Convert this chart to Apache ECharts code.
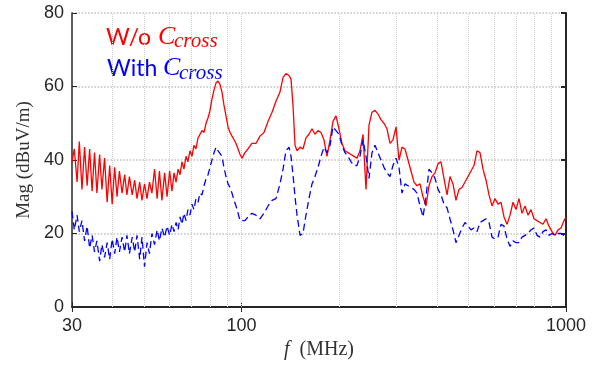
<!DOCTYPE html>
<html><head><meta charset="utf-8">
<script src="https://cdn.jsdelivr.net/npm/echarts@6/dist/echarts.min.js"></script>
<style>html,body{margin:0;padding:0;background:#fff}#c{width:595px;height:366px}</style>
</head><body><div id="c"></div>
<script>
// Frequency samples (MHz)
const freq = [
  30, 30.5, 31.1, 31.6, 32.2, 32.8, 33.4, 34, 34.6, 35.2, 35.8, 36.5, 37.1, 37.8, 38.5, 39.2, 39.9, 40.6, 41.3, 42,
  42.8, 43.6, 44.3, 45.1, 46, 46.8, 47.6, 48.5, 49.3, 50.2, 51.1, 52, 52.9, 53.9, 54.9, 55.8, 56.8, 57.9, 58.9, 60, 61,
  61.9, 62.8, 63.7, 64.6, 65.5, 66.4, 67.4, 68.3, 69.3, 70.3, 71.3, 72.3, 73.4, 74.4, 75.5, 76.6, 77.7, 78.8, 79.9, 81,
  82.2, 83.4, 84.6, 85.8, 87, 88.2, 89.5, 90.8, 92.1, 93.4, 94.8, 96.1, 97.5, 98.9,
  100.3, 102.4, 104.6, 107.6, 110.7, 113.9, 117.2, 120.6, 124.1, 127.6, 131.3, 134.2, 137, 140, 142, 144, 146.1, 148.2,
  151.4, 154.6, 157.9, 161.3, 164.8, 168.3, 172, 175.7, 179.4, 183.3, 187.3, 191.3, 195.4, 199.6, 203.9, 208.3, 212.8,
  217.4, 222.1, 226.8, 231.7, 236.7, 241.8, 247, 252.3, 257.7, 263.3, 268.9, 274.7, 280.6, 286.7, 292.8, 299.2,
  305.6, 312.2, 318.9, 325.8, 332.8, 339.9, 347.2, 354.7, 362.4, 370.2, 378.1, 386.3, 394.6, 403.1, 411.8, 420.6,
  429.7, 438.9, 448.4, 458, 467.9, 478, 488.3, 498.8, 509.5, 520.5, 531.7, 543.1, 554.8, 566.8, 579, 591.4, 604.2,
  617.2, 630.5, 644, 657.9, 672.1, 686.5, 701.3, 716.4, 731.8, 747.5, 763.6, 780, 796.8, 814, 831.5, 849.4, 867.7,
  886.3, 905.4, 924.9, 944.8, 965.1, 985.9, 1000
];
// W/o Ccross (dBuV/m)
const magWithout = [
  39.5, 43, 34, 45, 32, 43.5, 33, 43, 31.5, 42, 31, 41.5, 32, 40.5, 28.5, 38.5, 28, 38, 30, 37,
  31, 36, 30.5, 35.5, 30.5, 34.5, 29.5, 34, 29, 33.5, 29.5, 34, 31, 37.5, 29.5, 37, 29, 36.5, 30, 37, 31.5,
  36.5, 34, 37.5, 36, 39.5, 37.5, 41, 39.5, 42.5, 41, 44, 43, 46, 45.5, 48, 47.5, 50, 51.5, 53.5, 56.5,
  59, 61, 61.5, 60.5, 58.5, 55, 52, 49, 47.5, 46.5, 45.5, 44.5, 43, 41.5,
  40.5, 42, 43, 44.5, 44.5, 46.5, 47.5, 50.5, 53, 56, 58.5, 62.5, 63.5, 63, 62, 55, 44, 42.5,
  43.5, 43, 46, 47, 48.5, 47, 48, 47.5, 45.5, 41, 45.5, 50.5, 52, 48.5, 44.5, 42.5, 42,
  41.5, 41, 40.5, 42.5, 47, 32, 49.5, 53, 53.5, 52.5, 51, 50, 48.5, 44.5, 45.5, 49,
  40, 43.5, 43, 40, 37, 34, 33, 33.5, 30, 27.5, 33, 35.5, 36.5, 39, 39.5, 35,
  30.5, 35.5, 33.5, 29, 32, 32.5, 34, 35.5, 37, 38.5, 42.5, 42, 37.5, 34.5, 30.5, 27.5, 29.5,
  28, 28.5, 24.5, 22.5, 25, 28.5, 26.5, 29.5, 25.5, 27.5, 25, 26.5, 24, 23.5, 23, 22.5, 24,
  22, 20.5, 19.5, 21, 21.5, 23.5, 24.5
];
// With Ccross (dBuV/m)
const magWith = [
  26, 21, 25, 20.5, 23.5, 18, 22, 16, 19.5, 15, 18, 12.5, 17, 13.5, 17.5, 13, 18.5, 14.5, 19, 15,
  19, 15, 19.5, 14.5, 19, 15, 19.5, 13, 19, 11, 17.5, 14.5, 20, 17, 21, 18, 21.5, 19, 22, 19.5, 22.5,
  20.5, 23, 21, 24.5, 22.5, 25.5, 23.5, 26.5, 25, 28, 26.5, 29.5, 28.5, 31, 30.5, 33, 35, 36, 38, 40,
  42, 43.5, 42.5, 43, 41, 38, 35.5, 33.5, 32.5, 31, 29, 27.5, 25.5, 23.5,
  23, 23.5, 24.5, 25.5, 25, 24, 25.5, 27.5, 29, 29.5, 33.5, 37.5, 42.5, 43.5, 41, 36, 30, 25,
  19.5, 20, 25, 29.5, 33.5, 35.5, 38, 41, 43.5, 42, 44, 49, 48, 47, 44, 42, 41,
  39.5, 38.5, 38.5, 41, 45.5, 41, 35, 42, 44, 42, 40, 38, 36.5, 35.5, 38.5, 40.5,
  38, 31, 33.5, 33, 32.5, 32, 31, 27.5, 24.5, 30, 37.5, 36.5, 35, 32, 30.5, 28,
  27, 24, 21, 17.5, 19.5, 21.5, 23, 22, 21, 21.5, 20.5, 23, 23.5, 24, 23, 19, 18.5,
  19, 22.5, 22, 18.5, 16.5, 18, 17.5, 17.5, 19, 19.5, 20, 21, 21.5, 19.5, 19, 20.5, 21,
  19.5, 20, 19.5, 20, 20, 19.5, 19.5
];
const xTickValues = [30, 100, 1000];
const yTickValues = [0, 20, 40, 60, 80];
const minorGridFreq = [40, 50, 60, 70, 80, 90, 100, 200, 300, 400, 500, 600, 700, 800, 900];

const chart = echarts.init(document.getElementById('c'), null, {renderer: 'canvas'});
const pairs = arr => freq.map((f, i) => [f, arr[i]]);
const axisColor = '#262626';
const labelFont = {fontFamily: 'Liberation Sans', fontSize: 18, color: axisColor};

chart.setOption({
  animation: false,
  backgroundColor: '#fff',
  grid: {left: 72, right: 29, top: 13, bottom: 59, containLabel: false},
  xAxis: [{
    type: 'log', logBase: 10, min: xTickValues[0], max: xTickValues[xTickValues.length - 1],
    name: '{i|f}  (MHz)', nameLocation: 'middle', nameGap: 27,
    nameTextStyle: {fontFamily: 'Liberation Serif', fontSize: 20, color: '#333',
      rich: {i: {fontFamily: 'Liberation Serif', fontStyle: 'italic', fontSize: 20, color: '#333'}}},
    axisLine: {show: true, lineStyle: {color: axisColor, width: 1.5}},
    axisTick: {show: true, inside: true, length: 5, lineStyle: {color: axisColor}},
    splitLine: {show: false},
    axisLabel: Object.assign({margin: 10, showMinLabel: true, showMaxLabel: true,
      formatter: v => { const r = Math.round(v); return xTickValues.includes(r) ? String(r) : ''; }}, labelFont)
  }, {
    type: 'log', logBase: 10, min: xTickValues[0], max: xTickValues[xTickValues.length - 1], position: 'top',
    axisLine: {show: true, lineStyle: {color: axisColor, width: 2}},
    axisTick: {show: true, inside: true, length: 5, lineStyle: {color: axisColor}},
    axisLabel: {show: false}, splitLine: {show: false}
  }],
  yAxis: [{
    type: 'value', min: yTickValues[0], max: yTickValues[yTickValues.length - 1], interval: 20,
    name: 'Mag (dBuV/m)', nameLocation: 'middle', nameGap: 37,
    nameTextStyle: {fontFamily: 'Liberation Serif', fontSize: 19, color: '#333'},
    axisLine: {show: true, lineStyle: {color: axisColor, width: 1.5}},
    axisTick: {show: true, inside: true, length: 5, lineStyle: {color: axisColor}},
    splitLine: {show: true, lineStyle: {color: '#c4c4c4', width: 1.6, type: 'dotted'}},
    axisLabel: Object.assign({margin: 8}, labelFont)
  }, {
    type: 'value', min: yTickValues[0], max: yTickValues[yTickValues.length - 1], interval: 20, position: 'right',
    axisLine: {show: true, lineStyle: {color: axisColor, width: 2}},
    axisTick: {show: true, inside: true, length: 5, lineStyle: {color: axisColor, width: 2}},
    axisLabel: {show: false}, splitLine: {show: false}
  }],
  series: [{
    name: 'grid', type: 'line', data: [], z: 1,
    markLine: {
      silent: true, symbol: ['none', 'none'], z: 1, label: {show: false},
      lineStyle: {color: '#cfcfcf', width: 1, type: 'dotted'},
      data: minorGridFreq.map(f => ({xAxis: f}))
    }
  }, {
    name: 'W/o Ccross', type: 'line', data: pairs(magWithout), showSymbol: false, z: 3,
    lineStyle: {color: '#ff0000', width: 1.3}, itemStyle: {color: '#ff0000'}
  }, {
    name: 'With Ccross', type: 'line', data: pairs(magWith), showSymbol: false, z: 3,
    lineStyle: {color: '#0000ff', width: 1.3, type: [7, 4]}, itemStyle: {color: '#0000ff'}
  }],
  graphic: [
    {type: 'text', left: 106, top: 26, style: {text: 'W/o', fill: '#ff0000', font: '23px Lato'}},
    {type: 'text', left: 158, top: 24, style: {text: 'C', fill: '#ff0000', font: 'italic 26px "Liberation Serif"'}},
    {type: 'text', left: 174, top: 31, style: {text: 'cross', fill: '#ff0000', font: 'italic 21px "Liberation Serif"'}},
    {type: 'text', left: 107, top: 57, style: {text: 'With', fill: '#0000ff', font: '23px Lato'}},
    {type: 'text', left: 163, top: 55, style: {text: 'C', fill: '#0000ff', font: 'italic 26px "Liberation Serif"'}},
    {type: 'text', left: 179, top: 63, style: {text: 'cross', fill: '#0000ff', font: 'italic 21px "Liberation Serif"'}}
  ]
});
</script>
</body></html>
